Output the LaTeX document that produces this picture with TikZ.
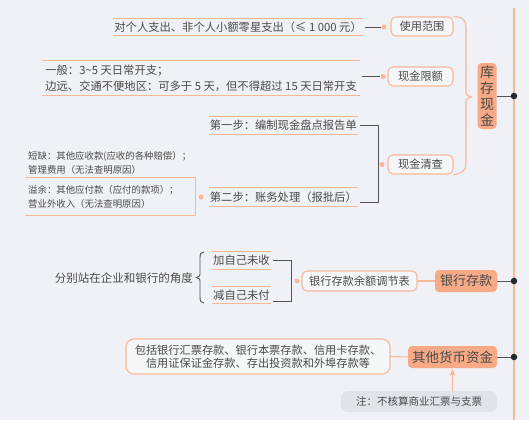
\documentclass[tikz,border=0pt]{standalone}
\usepackage{fontspec}
\setmainfont{Noto Sans CJK SC}
\usetikzlibrary{arrows.meta}
\definecolor{bg}{HTML}{F0F1F7}
\definecolor{org}{HTML}{F7B898}
\definecolor{orgfill}{HTML}{F8AA86}
\definecolor{txt}{HTML}{4A4A4A}
\definecolor{dk}{HTML}{555555}
\definecolor{notefill}{HTML}{E2E3E8}
\begin{document}
\begin{tikzpicture}[x=1pt,y=-1pt,
  every node/.style={text=txt},
  mainbox/.style={fill=orgfill,rounded corners=4pt,inner sep=1pt,font=\fontsize{13}{15}\selectfont},
  subbox/.style={draw=org,line width=1.1pt,fill=white!35!bg,rounded corners=5pt,inner sep=1pt,font=\fontsize{11.2}{13}\selectfont},
  tl/.style={inner xsep=1pt,inner ysep=0pt,font=\fontsize{11.3}{16}\selectfont},
  small/.style={inner xsep=3pt,inner ysep=0pt,align=left,font=\fontsize{9.4}{14}\selectfont},
  bdot/.style={circle,fill=black!85,inner sep=0pt,minimum size=6.5pt},
  odot/.style={circle,fill=org,inner sep=0pt,minimum size=5pt},
  oline/.style={draw=org,line width=0.9pt},
  dline/.style={draw=dk,line width=0.9pt},
]
\fill[bg] (0,0) rectangle (529,420);
\useasboundingbox (0,0) rectangle (529,420);

% main vertical line
\coordinate (vtop) at (514,8);
\coordinate (vbot) at (514,420);
\draw[org,line width=1.4pt] (vtop) -- (vbot);
\node[bdot] (d1) at (514,96) {};
\node[bdot] (d2) at (514,281) {};
\node[bdot] (d3) at (514,357) {};

% ---- 库存现金
\node[mainbox,align=center,minimum width=19pt,minimum height=66pt,font=\fontsize{14}{16}\selectfont] (kc) at (487,96) {库\\存\\现\\金};
\draw[dline] (kc.east) -- (d1);

\node[subbox,minimum width=62pt,minimum height=19pt] (u) at (422,26.5) {使用范围};
\node[subbox,minimum width=65pt,minimum height=19pt] (x) at (420.5,76.5) {现金限额};
\node[subbox,minimum width=65pt,minimum height=19pt] (q) at (420.5,164.5) {现金清查};

\draw[org,line width=1.1pt] (u.north east) .. controls (462,17) and (466,19) .. (466,28)
  -- (466,91) .. controls (466,95) .. (471.5,97) .. controls (466,99) .. (466,103)
  -- (466,163) .. controls (466,171) and (462,173.5) .. (q.south east);

\node[odot] (du) at (384,27) {};
\node[odot] (dx) at (383,76.5) {};
\node[odot] (dq) at (382,164.5) {};

\node[tl,anchor=east,minimum height=16pt] (t1) at (363,27) {对个人支出、非个人小额零星支出（≤ 1 000 元）};
\node[tl,anchor=east,align=left,minimum height=34pt,inner xsep=3pt] (t2) at (360,78) {一般：3\textasciitilde 5 天日常开支；\\边远、交通不便地区：可多于 5 天，但不得超过 15 天日常开支};
\node[tl,anchor=east,minimum height=17pt] (t3) at (358,125.5) {第一步：编制现金盘点报告单};
\node[tl,anchor=east,minimum height=18pt] (t4) at (358,197) {第二步：账务处理（报批后）};
\foreach \n in {t1,t2,t3,t4}{
  \draw[oline] (\n.north west) -- (\n.north east);
  \draw[oline] (\n.south west) -- (\n.south east);
}
\draw[dline,shorten <=1.5pt] (t1.east) -- (du);
\draw[dline,shorten <=1.5pt] (t2.east |- dx) -- (dx);
\draw[dline] ([xshift=2pt]t3.east) -- ++(18,0) |- ([xshift=2pt,yshift=-5pt]t4.east);

\node[odot] (dl) at (201,197) {};
\node[small,anchor=west] (s1) at (25,163) {短缺：其他应收款(应收的各种赔偿）；\\管理费用（无法查明原因）};
\node[small,anchor=west,text width=164pt,minimum height=37pt] (s2) at (25,196.5) {溢余：其他应付款（应付的款项）；\\营业外收入（无法查明原因）};
\draw[oline] (s2.north west) -- (s2.north east) -- (s2.south east) -- (s2.south west);

% ---- 银行存款
\node[mainbox,minimum width=62pt,minimum height=22pt] (bk) at (466,281) {银行存款};
\draw[dline] (bk.east) -- (d2);
\node[subbox,minimum width=115pt,minimum height=20pt] (tb) at (359.5,281) {银行存款余额调节表};
\draw[org,line width=1.1pt] (tb) -- (bk);
\node[odot] (db) at (297,281) {};
\node[tl,anchor=west,minimum height=17pt] (j1) at (212,260.5) {加自己未收};
\node[tl,anchor=west,minimum height=16pt] (j2) at (212,295) {减自己未付};
\foreach \n in {j1,j2}{
  \draw[oline] (\n.north west) -- (\n.north east);
  \draw[oline] (\n.south west) -- (\n.south east);
}
\draw[dline] ([xshift=2pt]j1.east) -- (291,260.5) -- (291,301) -- ([xshift=2pt,yshift=-6pt]j2.east);
\node[tl,anchor=east,font=\fontsize{11.5}{14}\selectfont] (fb) at (194,278) {分别站在企业和银行的角度};
\draw[dline] (204,252) .. controls (201,252) and (200,254) .. (200,258) -- (200,272)
  .. controls (200,276) .. (196.5,277.5) .. controls (200,279) .. (200,283) -- (200,297)
  .. controls (200,301) and (201,303) .. (204,303);

% ---- 其他货币资金
\node[mainbox,minimum width=89pt,minimum height=22pt,font=\fontsize{13.5}{15}\selectfont] (qt) at (452.5,357) {其他货币资金};
\draw[dline] (qt.east) -- (d3);
\node[subbox,align=center,minimum width=264pt,minimum height=35pt,rounded corners=8pt,font=\fontsize{11.2}{13.5}\selectfont] (bb) at (258,356.5) {包括银行汇票存款、银行本票存款、信用卡存款、\\信用证保证金存款、存出投资款和外埠存款等};
\draw[org,line width=1.1pt] (bb.east) -- (qt.west);
\node[fill=notefill,rounded corners=7pt,minimum width=156pt,minimum height=21pt,inner sep=1pt,font=\fontsize{10.5}{12}\selectfont] (nt) at (419,401.5) {注：不核算商业汇票与支票};
\draw[org,line width=1.4pt,-{Latex[length=7pt,width=6pt]}] (qt.south |- nt.north) -- (qt.south);
\end{tikzpicture}
\end{document}
